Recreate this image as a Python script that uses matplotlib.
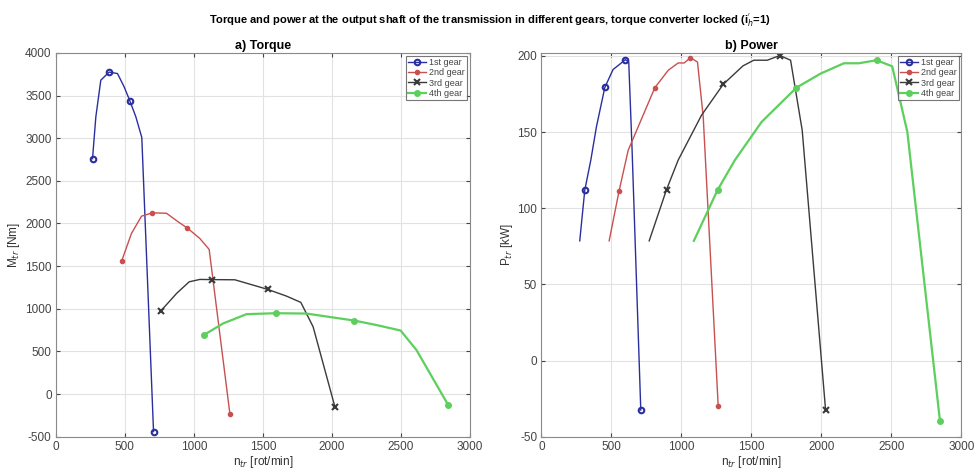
import numpy as np
import matplotlib.pyplot as plt

plt.rcParams['font.family'] = ['Liberation Sans', 'DejaVu Sans']
plt.rcParams['axes.unicode_minus'] = False

# torque, M_tr [Nm] vs n_tr [rot/min]
n_M1 = [266, 290, 326, 386, 447, 495, 536, 580, 623, 708]
M1 = [2760, 3250, 3680, 3775, 3758, 3602, 3440, 3250, 3008, -440]
n_M2 = [476, 548, 621, 700, 802, 886, 954, 1043, 1111, 1261]
M2 = [1555, 1883, 2086, 2125, 2120, 2020, 1945, 1825, 1696, -230]
n_M3 = [761, 875, 966, 1043, 1133, 1297, 1534, 1672, 1775, 1864, 2022]
M3 = [975, 1180, 1316, 1344, 1342, 1340, 1228, 1148, 1075, 789, -150]
n_M4 = [1072, 1212, 1382, 1594, 1816, 2162, 2324, 2498, 2613, 2843]
M4 = [692, 828, 937, 948, 944, 862, 809, 745, 516, -129]

# power, P_tr [kW] vs n_tr [rot/min]
n_P1 = [274, 310, 353, 393, 453, 512, 560, 600, 624, 648, 710]
P1 = [78.6, 111.9, 131.6, 153.4, 179.3, 191.1, 194.6, 197.6, 196, 138, -32.5]
n_P2 = [484, 555, 620, 691, 810, 906, 977, 1020, 1065, 1115, 1156, 1263]
P2 = [78.6, 111.4, 138.1, 153.4, 179.1, 190.6, 195.4, 195.4, 198.9, 196, 160, -29.9]
n_P3 = [770, 894, 977, 1144, 1299, 1440, 1517, 1613, 1703, 1780, 1863, 2030]
P3 = [78.6, 112.3, 131.6, 161.1, 181.4, 193.5, 197.2, 197.2, 200.3, 197.2, 151.2, -32.5]
n_P4 = [1089, 1258, 1382, 1573, 1822, 1994, 2161, 2268, 2394, 2506, 2614, 2847]
P4 = [78.6, 111.9, 131.6, 156.7, 179.2, 188.4, 195.2, 195.2, 197.2, 193.2, 150.1, -39.5]

gears = ['1st gear', '2nd gear', '3rd gear', '4th gear']
cores = ['#2b2f9e', '#c8504f', '#3a3a3a', '#5ccf5c']
marcadores = ['o', '.', 'x', 'o']
mk_M = [[0, 3, 6, 9], [0, 3, 6, 9], [0, 4, 6, 10], [0, 3, 5, 9]]
mk_P = [[1, 4, 7, 10], [1, 4, 8, 11], [1, 4, 8, 11], [1, 4, 8, 11]]

fig = plt.figure(figsize=(9.79, 4.75), dpi=100)
fig.suptitle("Torque and power at the output shaft of the transmission in different gears, "
             "torque converter locked (i$_h^{'}$=1)", fontsize=8, fontweight='bold', y=0.975)

ax1 = fig.add_axes([0.057, 0.0806, 0.423, 0.808])
ax2 = fig.add_axes([0.553, 0.0806, 0.429, 0.808])


def estilo(ax, tit, ylab):
    ax.set_title(tit, fontsize=9, fontweight='bold', pad=3)
    ax.set_xlabel('n$_{tr}$ [rot/min]', fontsize=8.5, labelpad=1, color='#333333')
    ax.set_ylabel(ylab, fontsize=8.5, labelpad=2, color='#333333')
    ax.grid(True, color='#e2e2e2', linewidth=0.8)
    ax.set_axisbelow(True)
    ax.tick_params(direction='in', top=True, right=True, labelsize=8.5,
                   colors='#444444', length=3, pad=3)
    for s in ax.spines.values():
        s.set_color('#8a8a8a')
        s.set_linewidth(0.8)
    ax.set_xlim(0, 3000)
    ax.set_xticks(np.arange(0, 3001, 500))


dados_M = [(n_M1, M1), (n_M2, M2), (n_M3, M3), (n_M4, M4)]
dados_P = [(n_P1, P1), (n_P2, P2), (n_P3, P3), (n_P4, P4)]

for i in range(4):
    ms = 5 if marcadores[i] == '.' else 4
    if i == 3:
        ms = 3.5
    mfc = 'none' if i == 0 else cores[i]
    lw = 1.6 if i == 3 else 1.0
    ax1.plot(dados_M[i][0], dados_M[i][1], color=cores[i], marker=marcadores[i],
             markevery=mk_M[i], ms=ms, mfc=mfc, mew=1.5, lw=lw, label=gears[i])
    ax2.plot(dados_P[i][0], dados_P[i][1], color=cores[i], marker=marcadores[i],
             markevery=mk_P[i], ms=ms, mfc=mfc, mew=1.5, lw=lw, label=gears[i])

estilo(ax1, 'a) Torque', 'M$_{tr}$ [Nm]')
ax1.set_ylim(-500, 4000)
ax1.set_yticks(np.arange(-500, 4001, 500))

estilo(ax2, 'b) Power', 'P$_{tr}$ [kW]')
ax2.set_ylim(-50, 202)
ax2.set_yticks(np.arange(-50, 201, 50))

for ax in (ax1, ax2):
    leg = ax.legend(loc='upper right', fontsize=6.5, frameon=True, fancybox=False,
                    borderpad=0.25, labelspacing=0.15, handlelength=2.0,
                    handletextpad=0.3, borderaxespad=0.3)
    leg.get_frame().set_edgecolor('#555555')
    leg.get_frame().set_linewidth(0.8)
    for t in leg.get_texts():
        t.set_color('#444444')

fig.savefig('out.png', dpi=100)
